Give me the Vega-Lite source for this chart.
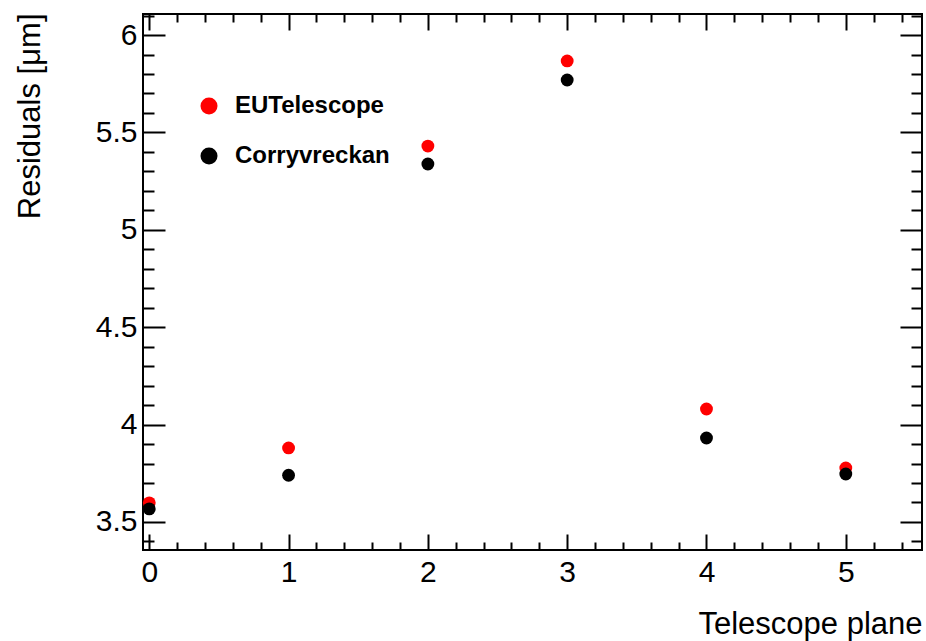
{
  "$schema": "https://vega.github.io/schema/vega-lite/v6.json",
  "width": 779,
  "height": 536,
  "autosize": {"type": "none"},
  "padding": {"left": 143, "top": 14, "right": 4, "bottom": 91},
  "background": "white",
  "config": {
    "view": {"stroke": "black", "strokeWidth": 2},
    "axis": {"domain": false, "grid": false, "tickColor": "black", "tickWidth": 2, "labelFont": "Liberation Sans", "titleFont": "Liberation Sans", "labelColor": "black", "titleColor": "black"}
  },
  "data": {
    "values": [
      {"plane": 0, "residual": 3.598, "series": "EUTelescope"},
      {"plane": 1, "residual": 3.88, "series": "EUTelescope"},
      {"plane": 2, "residual": 5.43, "series": "EUTelescope"},
      {"plane": 3, "residual": 5.867, "series": "EUTelescope"},
      {"plane": 4, "residual": 4.08, "series": "EUTelescope"},
      {"plane": 5, "residual": 3.777, "series": "EUTelescope"},
      {"plane": 0, "residual": 3.567, "series": "Corryvreckan"},
      {"plane": 1, "residual": 3.74, "series": "Corryvreckan"},
      {"plane": 2, "residual": 5.338, "series": "Corryvreckan"},
      {"plane": 3, "residual": 5.769, "series": "Corryvreckan"},
      {"plane": 4, "residual": 3.931, "series": "Corryvreckan"},
      {"plane": 5, "residual": 3.746, "series": "Corryvreckan"}
    ]
  },
  "layer": [
    {
      "mark": {"type": "point", "filled": true, "opacity": 1, "size": 165},
      "encoding": {
        "x": {"field": "plane", "type": "quantitative",
          "scale": {"domain": [-0.045, 5.547], "nice": false, "zero": false},
          "axis": {"orient": "bottom", "values": [0, 1, 2, 3, 4, 5], "ticks": false, "labelFontSize": 30, "labelPadding": 7,
            "title": "Telescope plane", "titleFontSize": 31, "titleFontWeight": "normal", "titleAnchor": "end", "titleAlign": "right", "titleX": 779, "titleY": 83, "titleBaseline": "alphabetic"}},
        "y": {"field": "residual", "type": "quantitative",
          "scale": {"domain": [3.356, 6.108], "nice": false, "zero": false},
          "axis": {"orient": "left", "values": [3.5, 4, 4.5, 5, 5.5, 6], "format": "~g", "ticks": false, "labelFontSize": 30, "labelPadding": 6,
            "title": "Residuals [μm]", "titleFontSize": 31, "titleFontWeight": "normal", "titleAngle": -90, "titleAnchor": "end", "titleAlign": "right", "titleX": -104, "titleY": -1, "titleBaseline": "alphabetic"}},
        "color": {"field": "series", "type": "nominal",
          "scale": {"domain": ["EUTelescope", "Corryvreckan"], "range": ["#ff0000", "#000000"]},
          "legend": {"orient": "none", "legendX": 54, "legendY": 80, "title": null, "padding": 0, "symbolType": "circle", "symbolSize": 290, "symbolStrokeWidth": 0,
            "labelFont": "Liberation Sans", "labelFontSize": 24, "labelFontWeight": "bold", "labelColor": "black", "labelOffset": 14, "rowPadding": 26}}
      }
    },
    {
      "mark": {"type": "point", "opacity": 0},
      "encoding": {
        "x": {"field": "plane", "type": "quantitative", "scale": {"domain": [-0.045, 5.547], "nice": false, "zero": false},
          "axis": {"orient": "bottom", "values": [0, 1, 2, 3, 4, 5], "labels": false, "tickSize": -16, "title": null}},
        "y": {"field": "residual", "type": "quantitative", "scale": {"domain": [3.356, 6.108], "nice": false, "zero": false},
          "axis": {"orient": "left", "values": [3.5, 4, 4.5, 5, 5.5, 6], "labels": false, "tickSize": -22, "title": null}}
      }
    },
    {
      "mark": {"type": "point", "opacity": 0},
      "encoding": {
        "x": {"field": "plane", "type": "quantitative", "scale": {"domain": [-0.045, 5.547], "nice": false, "zero": false},
          "axis": {"orient": "top", "values": [0, 1, 2, 3, 4, 5], "labels": false, "tickSize": -16, "title": null}},
        "y": {"field": "residual", "type": "quantitative", "scale": {"domain": [3.356, 6.108], "nice": false, "zero": false},
          "axis": {"orient": "right", "values": [3.5, 4, 4.5, 5, 5.5, 6], "labels": false, "tickSize": -22, "title": null}}
      }
    },
    {
      "mark": {"type": "point", "opacity": 0},
      "encoding": {
        "x": {"field": "plane", "type": "quantitative", "scale": {"domain": [-0.045, 5.547], "nice": false, "zero": false},
          "axis": {"orient": "bottom", "values": [0.2, 0.4, 0.6, 0.8, 1.2, 1.4, 1.6, 1.8, 2.2, 2.4, 2.6, 2.8, 3.2, 3.4, 3.6, 3.8, 4.2, 4.4, 4.6, 4.8, 5.2, 5.4], "labels": false, "tickSize": -8, "title": null}},
        "y": {"field": "residual", "type": "quantitative", "scale": {"domain": [3.356, 6.108], "nice": false, "zero": false},
          "axis": {"orient": "left", "values": [3.4, 3.6, 3.7, 3.8, 3.9, 4.1, 4.2, 4.3, 4.4, 4.6, 4.7, 4.8, 4.9, 5.1, 5.2, 5.3, 5.4, 5.6, 5.7, 5.8, 5.9, 6.1], "labels": false, "tickSize": -11, "title": null}}
      }
    },
    {
      "mark": {"type": "point", "opacity": 0},
      "encoding": {
        "x": {"field": "plane", "type": "quantitative", "scale": {"domain": [-0.045, 5.547], "nice": false, "zero": false},
          "axis": {"orient": "top", "values": [0.2, 0.4, 0.6, 0.8, 1.2, 1.4, 1.6, 1.8, 2.2, 2.4, 2.6, 2.8, 3.2, 3.4, 3.6, 3.8, 4.2, 4.4, 4.6, 4.8, 5.2, 5.4], "labels": false, "tickSize": -8, "title": null}},
        "y": {"field": "residual", "type": "quantitative", "scale": {"domain": [3.356, 6.108], "nice": false, "zero": false},
          "axis": {"orient": "right", "values": [3.4, 3.6, 3.7, 3.8, 3.9, 4.1, 4.2, 4.3, 4.4, 4.6, 4.7, 4.8, 4.9, 5.1, 5.2, 5.3, 5.4, 5.6, 5.7, 5.8, 5.9, 6.1], "labels": false, "tickSize": -11, "title": null}}
      }
    }
  ],
  "resolve": {"axis": {"x": "independent", "y": "independent"}}
}
